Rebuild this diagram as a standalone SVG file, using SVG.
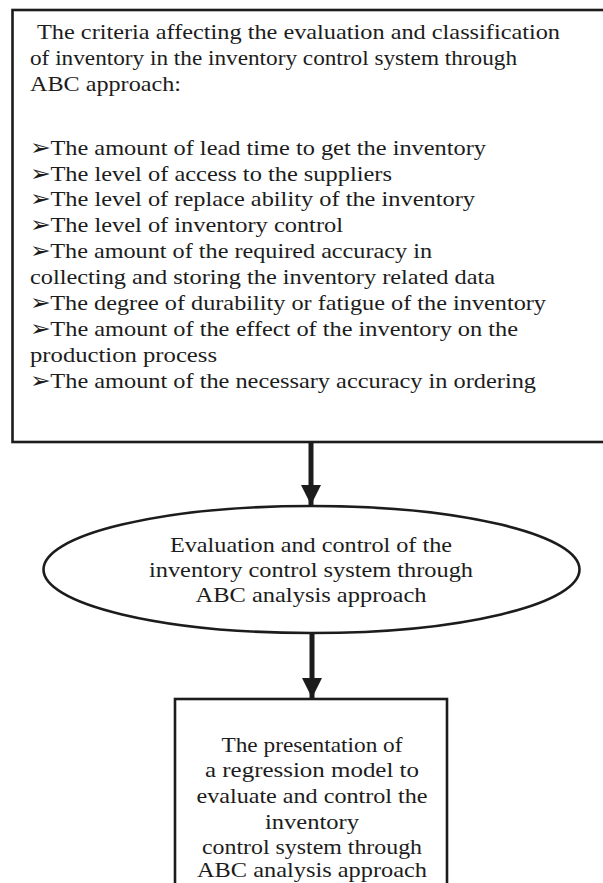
<svg xmlns="http://www.w3.org/2000/svg" width="603" height="883" viewBox="0 0 603 883">
<defs>
<style>
.t{font-family:"Liberation Serif","Times New Roman",serif;font-size:21.5px;fill:#1c1c1c}
.c{text-anchor:middle}
.box{fill:#fff;stroke:#1c1c1c;stroke-width:2.6}
.conn{stroke:#1c1c1c;stroke-width:5;fill:none}
</style>
<marker id="ah" viewBox="0 0 10 10" refX="10" refY="5" markerWidth="4" markerHeight="4" markerUnits="strokeWidth" orient="auto">
<path d="M0,0 L10,5 L0,10 z" fill="#1c1c1c"/>
</marker>
</defs>
<rect width="603" height="883" fill="#fff"/>
<g id="criteria">
<rect class="box" x="12.5" y="10" width="600" height="432"/>
<text class="t" x="37" y="39" textLength="523" lengthAdjust="spacingAndGlyphs">The criteria affecting the evaluation and classification</text>
<text class="t" x="30" y="65" textLength="487" lengthAdjust="spacingAndGlyphs">of inventory in the inventory control system through</text>
<text class="t" x="30" y="91" textLength="151" lengthAdjust="spacingAndGlyphs">ABC approach:</text>
<text class="t" x="30" y="155" textLength="456" lengthAdjust="spacingAndGlyphs">➢The amount of lead time to get the inventory</text>
<text class="t" x="30" y="181" textLength="362" lengthAdjust="spacingAndGlyphs">➢The level of access to the suppliers</text>
<text class="t" x="30" y="206" textLength="445" lengthAdjust="spacingAndGlyphs">➢The level of replace ability of the inventory</text>
<text class="t" x="30" y="232" textLength="313" lengthAdjust="spacingAndGlyphs">➢The level of inventory control</text>
<text class="t" x="30" y="258" textLength="402" lengthAdjust="spacingAndGlyphs">➢The amount of the required accuracy in</text>
<text class="t" x="30" y="284" textLength="465" lengthAdjust="spacingAndGlyphs">collecting and storing the inventory related data</text>
<text class="t" x="30" y="310" textLength="516" lengthAdjust="spacingAndGlyphs">➢The degree of durability or fatigue of the inventory</text>
<text class="t" x="30" y="336" textLength="488" lengthAdjust="spacingAndGlyphs">➢The amount of the effect of the inventory on the</text>
<text class="t" x="30" y="362" textLength="187" lengthAdjust="spacingAndGlyphs">production process</text>
<text class="t" x="30" y="388" textLength="506" lengthAdjust="spacingAndGlyphs">➢The amount of the necessary accuracy in ordering</text>
</g>
<g id="evaluation">
<ellipse class="box" cx="311.5" cy="569.5" rx="268" ry="63.5"/>
<text class="t c" x="311" y="552" textLength="282" lengthAdjust="spacingAndGlyphs">Evaluation and control of the</text>
<text class="t c" x="311" y="577" textLength="324" lengthAdjust="spacingAndGlyphs">inventory control system through</text>
<text class="t c" x="311" y="602" textLength="231" lengthAdjust="spacingAndGlyphs">ABC analysis approach</text>
</g>
<g id="regression">
<rect class="box" x="175" y="699" width="272" height="200"/>
<text class="t c" x="312" y="752" textLength="181" lengthAdjust="spacingAndGlyphs">The presentation of</text>
<text class="t c" x="312" y="777" textLength="214" lengthAdjust="spacingAndGlyphs">a regression model to</text>
<text class="t c" x="312" y="803" textLength="231" lengthAdjust="spacingAndGlyphs">evaluate and control the</text>
<text class="t c" x="312" y="829" textLength="94" lengthAdjust="spacingAndGlyphs">inventory</text>
<text class="t c" x="312" y="854" textLength="220" lengthAdjust="spacingAndGlyphs">control system through</text>
<text class="t c" x="312" y="877" textLength="230" lengthAdjust="spacingAndGlyphs">ABC analysis approach</text>
</g>
<g id="connectors">
<line class="conn" x1="311" y1="443" x2="311" y2="505" marker-end="url(#ah)"/>
<line class="conn" x1="312" y1="634" x2="312" y2="698" marker-end="url(#ah)"/>
</g>
</svg>
